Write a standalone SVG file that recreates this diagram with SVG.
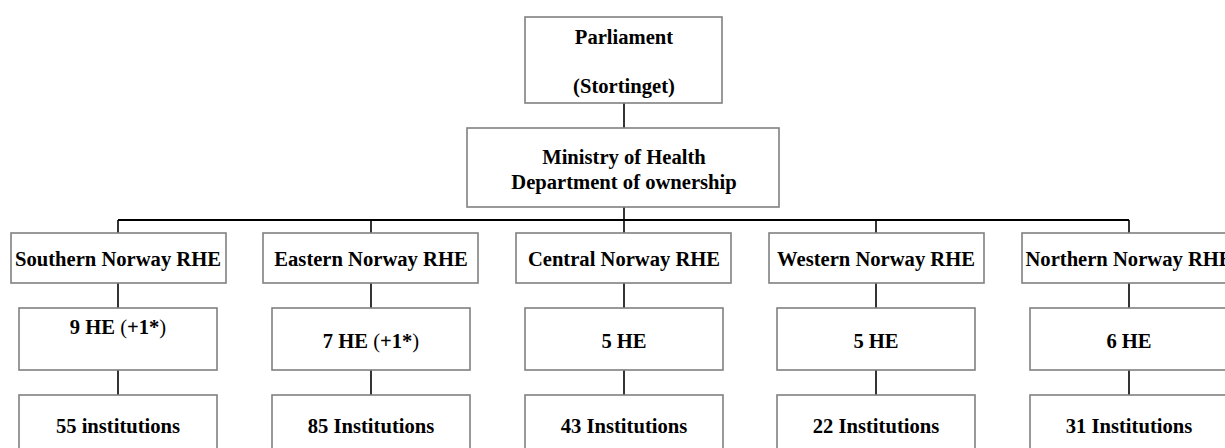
<svg xmlns="http://www.w3.org/2000/svg" width="1225" height="448" viewBox="0 0 1225 448">
<style>
.box{fill:#fff;stroke:#808080;stroke-width:1.6}
.t{font-family:"Liberation Serif","Times New Roman",serif;font-weight:bold;font-size:20.6px;fill:#000;text-anchor:middle}
.n{font-weight:normal}
.c{stroke:#000;stroke-width:1.6;fill:none}
</style>
<rect width="1225" height="448" fill="#fff"/>
<g id="connectors">
<line class="c" x1="624" y1="103" x2="624" y2="128"/>
<line class="c" x1="624" y1="207" x2="624" y2="220"/>
<line class="c" x1="118" y1="220" x2="1129" y2="220" style="stroke-width:2"/>
<line class="c" x1="118" y1="220" x2="118" y2="233"/>
<line class="c" x1="371" y1="220" x2="371" y2="233"/>
<line class="c" x1="624" y1="220" x2="624" y2="233"/>
<line class="c" x1="876" y1="220" x2="876" y2="233"/>
<line class="c" x1="1129" y1="220" x2="1129" y2="233"/>
<line class="c" x1="118" y1="283" x2="118" y2="308"/>
<line class="c" x1="371" y1="283" x2="371" y2="308"/>
<line class="c" x1="624" y1="283" x2="624" y2="308"/>
<line class="c" x1="876" y1="283" x2="876" y2="308"/>
<line class="c" x1="1129" y1="283" x2="1129" y2="308"/>
<line class="c" x1="118" y1="370" x2="118" y2="395"/>
<line class="c" x1="371" y1="370" x2="371" y2="395"/>
<line class="c" x1="624" y1="370" x2="624" y2="395"/>
<line class="c" x1="876" y1="370" x2="876" y2="395"/>
<line class="c" x1="1129" y1="370" x2="1129" y2="395"/>
</g>
<g id="parliament">
<rect class="box" x="525" y="17" width="197" height="86"/>
<text class="t" x="624" y="44">Parliament</text>
<text class="t" x="624" y="93">(Stortinget)</text>
</g>
<g id="ministry">
<rect class="box" x="467" y="128" width="312" height="79"/>
<text class="t" x="624" y="164">Ministry of Health</text>
<text class="t" x="624" y="189">Department of ownership</text>
</g>
<g id="southern">
<rect class="box" x="11" y="233" width="215" height="50"/>
<text class="t" x="118" y="266">Southern Norway RHE</text>
</g>
<g id="southern-he">
<rect class="box" x="19" y="308" width="198" height="62"/>
<text class="t" x="118" y="334">9 HE <tspan class="n">(</tspan>+1*<tspan class="n">)</tspan></text>
</g>
<g id="southern-inst">
<rect class="box" x="19" y="395" width="198" height="60"/>
<text class="t" x="118" y="433">55 institutions</text>
</g>
<g id="eastern">
<rect class="box" x="263" y="233" width="215" height="50"/>
<text class="t" x="371" y="266">Eastern Norway RHE</text>
</g>
<g id="eastern-he">
<rect class="box" x="272" y="308" width="198" height="62"/>
<text class="t" x="371" y="348">7 HE <tspan class="n">(</tspan>+1*<tspan class="n">)</tspan></text>
</g>
<g id="eastern-inst">
<rect class="box" x="272" y="395" width="198" height="60"/>
<text class="t" x="371" y="433">85 Institutions</text>
</g>
<g id="central">
<rect class="box" x="516" y="233" width="215" height="50"/>
<text class="t" x="624" y="266">Central Norway RHE</text>
</g>
<g id="central-he">
<rect class="box" x="525" y="308" width="198" height="62"/>
<text class="t" x="624" y="348">5 HE</text>
</g>
<g id="central-inst">
<rect class="box" x="525" y="395" width="198" height="60"/>
<text class="t" x="624" y="433">43 Institutions</text>
</g>
<g id="western">
<rect class="box" x="769" y="233" width="215" height="50"/>
<text class="t" x="876" y="266">Western Norway RHE</text>
</g>
<g id="western-he">
<rect class="box" x="777" y="308" width="198" height="62"/>
<text class="t" x="876" y="348">5 HE</text>
</g>
<g id="western-inst">
<rect class="box" x="777" y="395" width="198" height="60"/>
<text class="t" x="876" y="433">22 Institutions</text>
</g>
<g id="northern">
<rect class="box" x="1022" y="233" width="215" height="50"/>
<text class="t" x="1129" y="266">Northern Norway RHE</text>
</g>
<g id="northern-he">
<rect class="box" x="1030" y="308" width="198" height="62"/>
<text class="t" x="1129" y="348">6 HE</text>
</g>
<g id="northern-inst">
<rect class="box" x="1030" y="395" width="198" height="60"/>
<text class="t" x="1129" y="433">31 Institutions</text>
</g>
</svg>
